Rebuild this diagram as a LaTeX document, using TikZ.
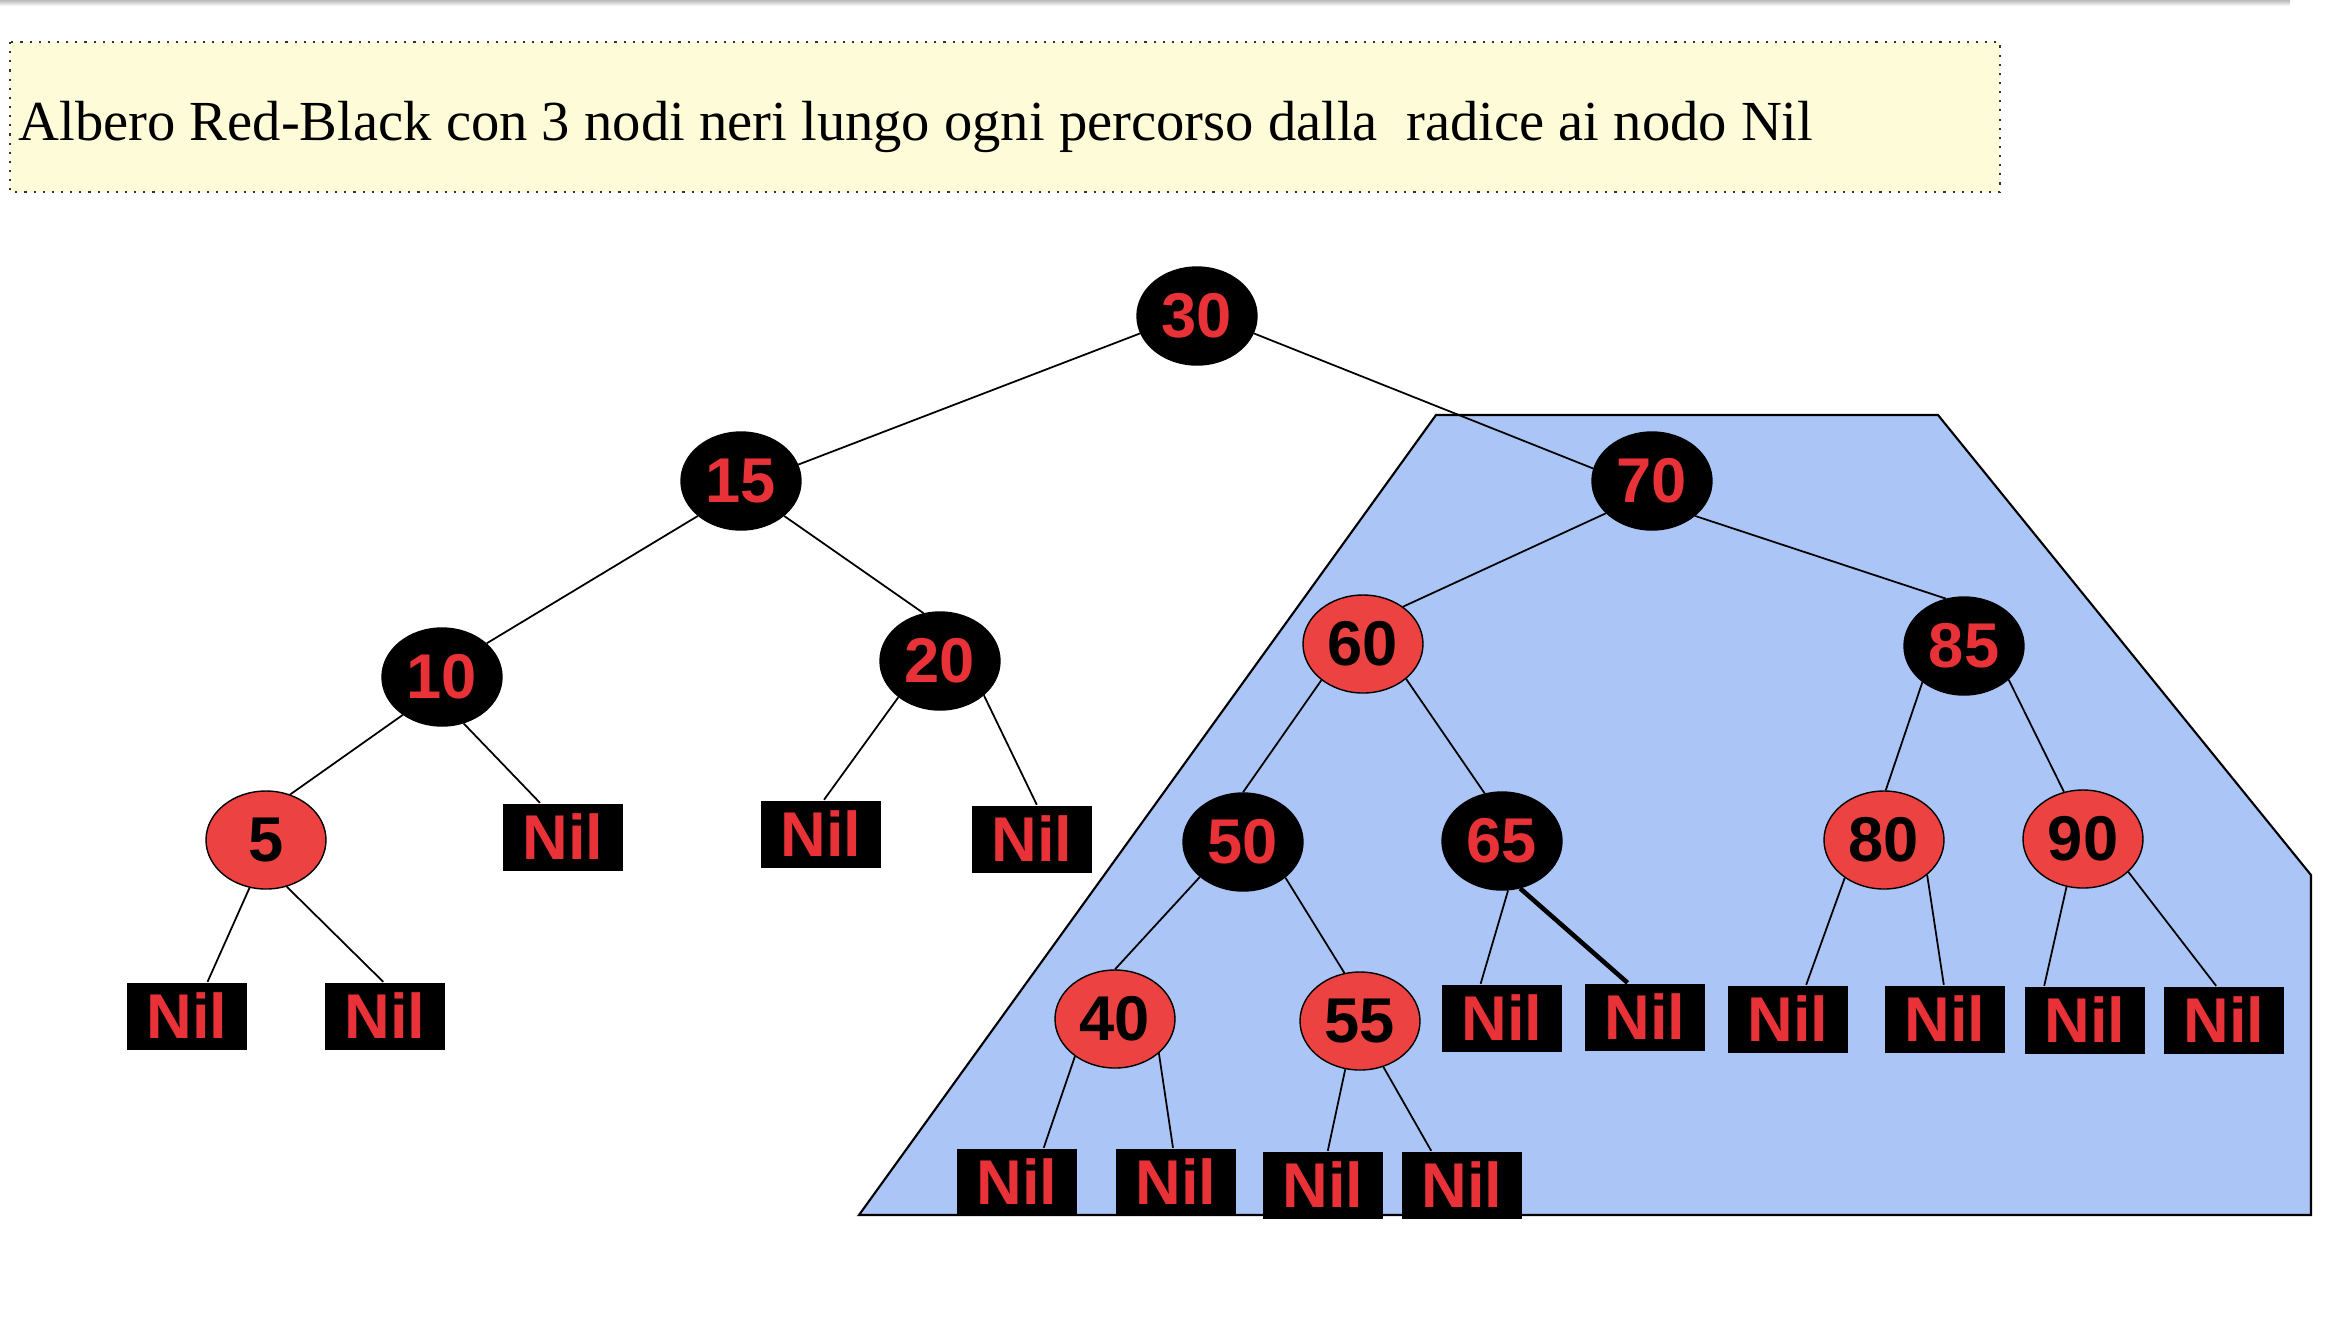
\documentclass[tikz,border=0pt]{standalone}
\usepackage{fontspec}
\setmainfont{Liberation Serif}
\setsansfont{Liberation Sans}
\usetikzlibrary{shapes.geometric}
\definecolor{rbred}{RGB}{232,50,56}
\definecolor{rbfill}{RGB}{236,66,66}
\definecolor{subtreeblue}{RGB}{171,197,247}
\definecolor{notecream}{RGB}{254,251,216}

\tikzset{
  blacknode/.style={ellipse, draw=black, fill=black, text=rbred, minimum width=1.2cm, minimum height=0.98cm, inner sep=0pt, font=\sffamily\bfseries\fontsize{18}{18}\selectfont},
  rednode/.style={blacknode, fill=rbfill, text=black},
  nilbox/.style={rectangle, fill=black, text=rbred, minimum width=1.2cm, minimum height=0.67cm, inner sep=0pt, font=\sffamily\bfseries\fontsize{18}{18}\selectfont},
  branch/.style={line width=0.5pt}
}

\begin{document}
\begin{tikzpicture}
\useasboundingbox (0,0) rectangle (23.28,-13.18);
\shade[top color=gray!55, bottom color=white] (0,0) rectangle (22.9,-0.06);

\draw[fill=notecream, draw=black!80, dotted, line width=0.6pt] (0.10,-0.42) rectangle (20.00,-1.92);
\node[anchor=base west, inner sep=0pt, font=\fontsize{16.1}{16.1}\selectfont] (title) at (0.18,-1.40) {Albero Red-Black con 3 nodi neri lungo ogni percorso dalla\ \ radice ai nodo Nil};

\draw[fill=subtreeblue, line width=0.6pt] (14.36,-4.15) -- (19.38,-4.15) -- (23.11,-8.75) -- (23.11,-12.15) -- (8.59,-12.15) -- cycle;

\node[blacknode] (n30) at (11.97,-3.16) {30};
\node[blacknode] (n15) at (7.41,-4.81) {15};
\node[blacknode] (n70) at (16.52,-4.81) {70};
\node[blacknode] (n10) at (4.42,-6.77) {10};
\node[blacknode] (n20) at (9.40,-6.61) {20};
\node[rednode] (n60) at (13.63,-6.44) {60};
\node[blacknode] (n85) at (19.64,-6.46) {85};
\node[rednode] (n5) at (2.66,-8.40) {5};
\node[blacknode] (n50) at (12.43,-8.42) {50};
\node[blacknode] (n65) at (15.02,-8.41) {65};
\node[rednode] (n80) at (18.84,-8.40) {80};
\node[rednode] (n90) at (20.83,-8.39) {90};
\node[rednode] (n40) at (11.15,-10.19) {40};
\node[rednode] (n55) at (13.60,-10.21) {55};

\node[nilbox] (nil10) at (5.63,-8.37) {Nil};
\node[nilbox] (nil20a) at (8.21,-8.34) {Nil};
\node[nilbox] (nil20b) at (10.32,-8.39) {Nil};
\node[nilbox] (nil5a) at (1.87,-10.16) {Nil};
\node[nilbox] (nil5b) at (3.85,-10.16) {Nil};
\node[nilbox] (nil65a) at (15.02,-10.18) {Nil};
\node[nilbox] (nil65b) at (16.45,-10.17) {Nil};
\node[nilbox] (nil80a) at (17.88,-10.19) {Nil};
\node[nilbox] (nil80b) at (19.45,-10.19) {Nil};
\node[nilbox] (nil90a) at (20.85,-10.20) {Nil};
\node[nilbox] (nil90b) at (22.24,-10.20) {Nil};
\node[nilbox] (nil40a) at (10.17,-11.82) {Nil};
\node[nilbox] (nil40b) at (11.76,-11.82) {Nil};
\node[nilbox] (nil55a) at (13.23,-11.85) {Nil};
\node[nilbox] (nil55b) at (14.62,-11.85) {Nil};

\foreach \a/\b in {n30.197/n15.16, n30.-17/n70.168, n15.219/n10.37, n15.-39/n20.109,
    n10.224/n5.62, n10.-65/nil10.124, n20.221/nil20a.85, n20.-38/nil20b.82,
    n5.251/nil5a.59, n5.-66/nil5b.93, n70.215/n60.43, n70.-39/n85.111,
    n60.221/n50.90, n60.-39/n65.110, n85.221/n80.88, n85.-37/n90.112,
    n50.219/n40.90, n50.-40/n55.108, n65.-83/nil65a.122,
    n80.224/nil80a.62, n80.-39/nil80b.92, n90.251/nil90a.140, n90.-36/nil90b.103,
    n40.223/nil40a.52, n40.-38/nil40b.95, n55.253/nil55a.82, n55.-63/nil55b.132}
  \draw[branch] (\a) -- (\b);
\draw[line width=1.3pt] (n65.-69) -- (nil65b.117);
\end{tikzpicture}
\end{document}
